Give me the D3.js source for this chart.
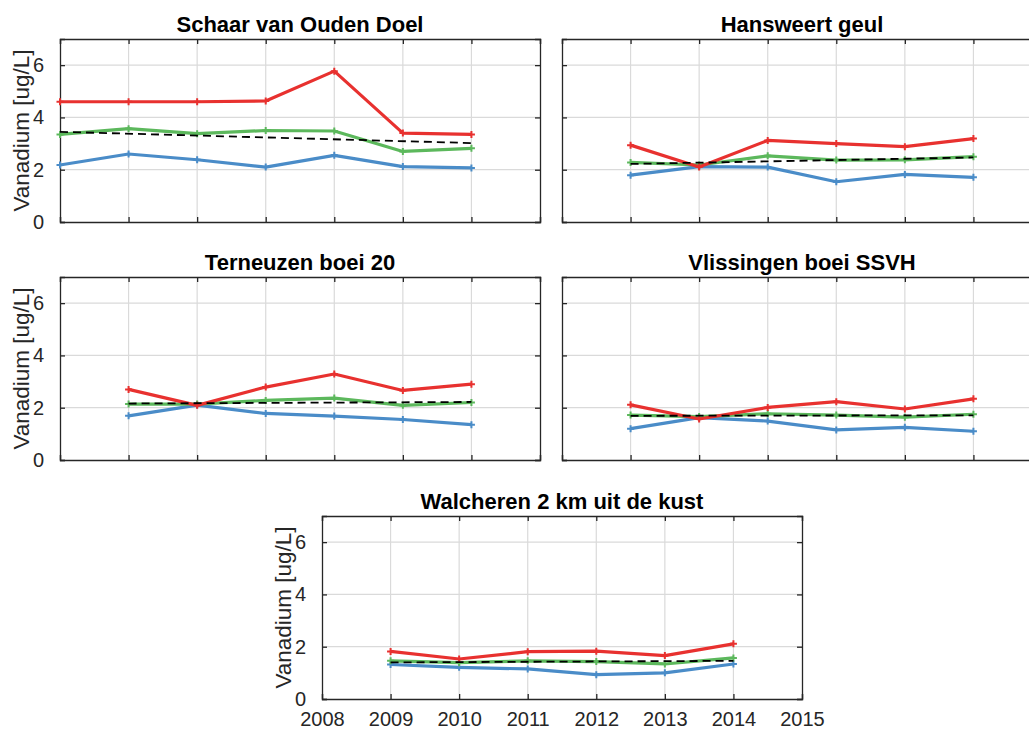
<!DOCTYPE html>
<html>
<head>
<meta charset="utf-8">
<script src="https://cdn.jsdelivr.net/npm/d3@7"></script>
<style>
html,body{margin:0;padding:0;background:#fff;}
svg{display:block;}
text{font-family:"Liberation Sans",Arial,Helvetica,sans-serif;}
</style>
</head>
<body>
<svg id="chart" width="1029" height="729"></svg>
<script>
// ---- data ----
const titles = ["Schaar van Ouden Doel","Hansweert geul","Terneuzen boei 20","Vlissingen boei SSVH","Walcheren 2 km uit de kust"];
const xTicks = [2008,2009,2010,2011,2012,2013,2014,2015];
const yTicks = [0,2,4,6];
const yearsA = [2008,2009,2010,2011,2012,2013,2014];
const yearsB = [2009,2010,2011,2012,2013,2014];

const redSchaar   = [4.60,4.60,4.60,4.63,5.77,3.40,3.35];
const greenSchaar = [3.35,3.57,3.38,3.50,3.48,2.70,2.82];
const blueSchaar  = [2.18,2.60,2.38,2.10,2.55,2.12,2.07];
const trendSchaar = [3.45,3.02];

const redHans   = [2.94,2.10,3.12,3.00,2.88,3.19];
const greenHans = [2.28,2.18,2.53,2.37,2.38,2.50];
const blueHans  = [1.79,2.12,2.10,1.54,1.82,1.71];
const trendHans = [2.22,2.47];

const redTern   = [2.70,2.09,2.79,3.29,2.66,2.90];
const greenTern = [2.14,2.14,2.28,2.37,2.09,2.20];
const blueTern  = [1.69,2.10,1.78,1.68,1.55,1.35];
const trendTern = [2.16,2.22];

const redVlis   = [2.11,1.57,2.01,2.23,1.95,2.34];
const greenVlis = [1.72,1.66,1.77,1.72,1.64,1.75];
const blueVlis  = [1.20,1.62,1.49,1.15,1.25,1.10];
const trendVlis = [1.69,1.71];

const redWalc   = [1.82,1.53,1.81,1.83,1.66,2.11];
const greenWalc = [1.46,1.39,1.46,1.43,1.34,1.57];
const blueWalc  = [1.32,1.21,1.15,0.93,1.00,1.34];
const trendWalc = [1.40,1.46];

const panels = [
  {title:titles[0], years:yearsA, red:redSchaar, green:greenSchaar, blue:blueSchaar, trend:trendSchaar, x:60,  y:39,  ylab:true,  ytl:true,  xtl:false},
  {title:titles[1], years:yearsB, red:redHans,   green:greenHans,   blue:blueHans,   trend:trendHans,   x:562, y:39,  ylab:false, ytl:false, xtl:false},
  {title:titles[2], years:yearsB, red:redTern,   green:greenTern,   blue:blueTern,   trend:trendTern,   x:60,  y:277, ylab:true,  ytl:true,  xtl:false},
  {title:titles[3], years:yearsB, red:redVlis,   green:greenVlis,   blue:blueVlis,   trend:trendVlis,   x:562, y:277, ylab:false, ytl:false, xtl:false},
  {title:titles[4], years:yearsB, red:redWalc,   green:greenWalc,   blue:blueWalc,   trend:trendWalc,   x:322, y:516, ylab:true,  ytl:true,  xtl:true}
];

const W = 480, H = 183;
const cRed = "#e8312f", cGreen = "#5cb85c", cBlue = "#4a8cc8", axisCol = "#262626";
const svg = d3.select("#chart");

panels.forEach(p => {
  const g = svg.append("g").attr("transform", `translate(${p.x},${p.y})`);
  const x = d3.scaleLinear().domain([2008,2015]).range([0,W]);
  const y = d3.scaleLinear().domain([0,7]).range([H,0]);

  // grid
  g.append("g").selectAll("line").data(xTicks.slice(1,-1)).join("line")
    .attr("x1", d=>x(d)).attr("x2", d=>x(d)).attr("y1",0).attr("y2",H)
    .attr("stroke","#dadada").attr("stroke-width",1.2);
  g.append("g").selectAll("line").data(yTicks.slice(1)).join("line")
    .attr("x1",0).attr("x2",W).attr("y1", d=>y(d)).attr("y2", d=>y(d))
    .attr("stroke","#dadada").attr("stroke-width",1.2);

  // axes (ticks inward)
  const xb = d3.axisBottom(x).tickValues(xTicks).tickSize(-5).tickPadding(13)
    .tickFormat(p.xtl ? d3.format("d") : () => "");
  const xt = d3.axisTop(x).tickValues(xTicks).tickSize(-5).tickFormat(() => "");
  const yl = d3.axisLeft(y).tickValues(yTicks).tickSize(-5).tickPadding(16)
    .tickFormat(p.ytl ? d3.format("d") : () => "");
  const yr = d3.axisRight(y).tickValues(yTicks).tickSize(-5).tickFormat(() => "");

  [[xb,`translate(0,${H})`],[xt,"translate(0,0)"],[yl,"translate(0,0)"],[yr,`translate(${W},0)`]].forEach(([ax,tr]) => {
    const a = g.append("g").attr("transform", tr).call(ax);
    a.select(".domain").attr("stroke", axisCol).attr("stroke-width",1.3);
    a.selectAll(".tick line").attr("stroke", axisCol).attr("stroke-width",1.3);
    a.selectAll("text").attr("fill", axisCol).style("font-size","20px");
  });

  const line = d3.line().x(d=>x(d[0])).y(d=>y(d[1]));
  const series = [[p.blue,cBlue],[p.green,cGreen],[p.red,cRed]];
  series.forEach(([vals,col]) => {
    const pts = p.years.map((yr,i)=>[yr, vals[i]]);
    g.append("path").datum(pts).attr("d", line).attr("fill","none")
      .attr("stroke", col).attr("stroke-width",3.2).attr("stroke-linejoin","round");
    g.selectAll(null).data(pts).join("path")
      .attr("d", d => `M${x(d[0])-3.5},${y(d[1])}h7M${x(d[0])},${y(d[1])-3.5}v7`)
      .attr("stroke", col).attr("stroke-width",2);
  });
  // trend
  const tp = [[p.years[0], p.trend[0]], [p.years[p.years.length-1], p.trend[1]]];
  g.append("path").datum(tp).attr("d", line).attr("fill","none")
    .attr("stroke","#000").attr("stroke-width",1.8).attr("stroke-dasharray","8,5");

  // title
  g.append("text").attr("x", W/2).attr("y", -7).attr("text-anchor","middle")
    .style("font-size","22px").style("font-weight","bold").attr("fill","#000").text(p.title);

  if (p.ylab) {
    g.append("text").attr("transform", `translate(${-31},${H/2}) rotate(-90)`)
      .attr("text-anchor","middle").style("font-size","22.5px").attr("fill", axisCol)
      .text("Vanadium [ug/L]");
  }
});
</script>
</body>
</html>
